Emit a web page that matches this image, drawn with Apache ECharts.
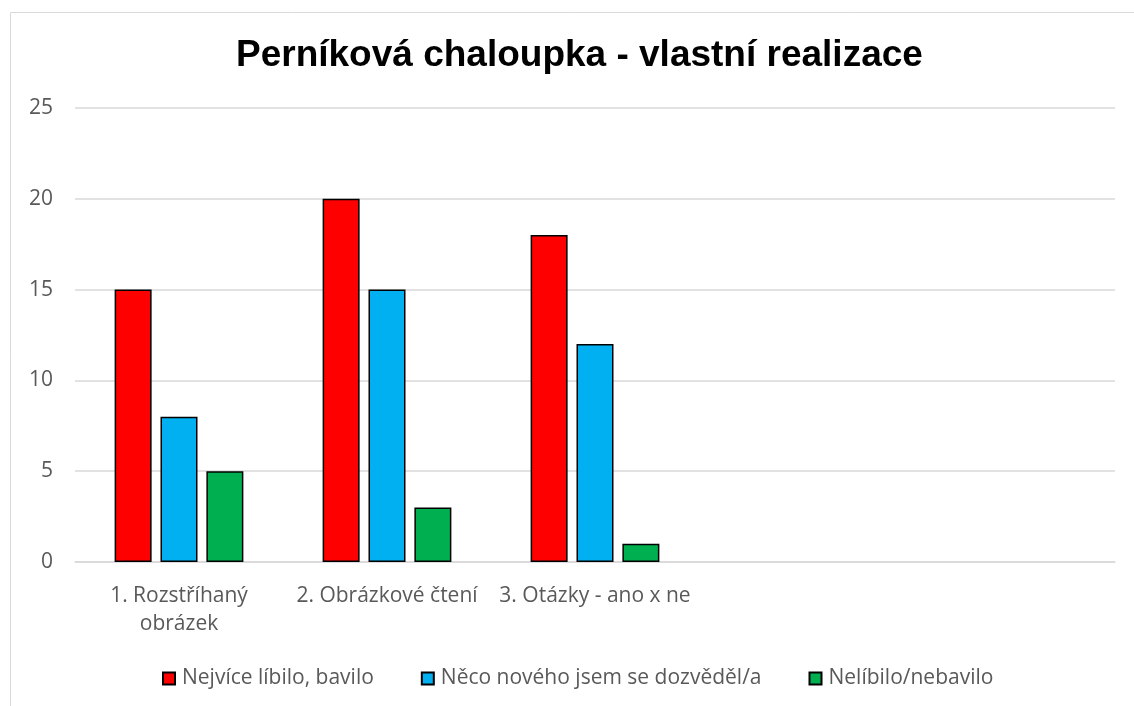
<!DOCTYPE html>
<html>
<head>
<meta charset="utf-8">
<script src="https://cdn.jsdelivr.net/npm/echarts@6/dist/echarts.min.js"></script>
<style>html,body{margin:0;padding:0;background:#fff}#c{width:1134px;height:706px}</style>
</head>
<body>
<div id="c"></div>
<script>
const titleText = 'Perníková chaloupka - vlastní realizace';
const categories = ['1. Rozstříhaný obrázek', '2. Obrázkové čtení', '3. Otázky - ano x ne', '', ''];
const seriesNames = ['Nejvíce líbilo, bavilo', 'Něco nového jsem se dozvěděl/a', 'Nelíbilo/nebavilo'];
const liked = [15, 20, 18, null, null];
const learned = [8, 15, 12, null, null];
const disliked = [5, 3, 1, null, null];
const colors = ['#FF0000', '#00B0F0', '#00B050'];
const yTicks = [0, 5, 10, 15, 20, 25];

// simple word wrap by character count
function wrap(s, maxChars) {
  const words = s.split(' ');
  const lines = [];
  let cur = '';
  words.forEach(w => {
    const t = cur ? cur + ' ' + w : w;
    if (t.length > maxChars && cur) { lines.push(cur); cur = w; } else { cur = t; }
  });
  if (cur) lines.push(cur);
  return lines.join('\n');
}

const chart = echarts.init(document.getElementById('c'), null, {renderer: 'canvas'});
const font = '"Open Sans", sans-serif';
const mk = (name, data, color) => ({
  name, type: 'bar', data, barWidth: 37, barGap: '24%',
  itemStyle: {color, borderColor: '#000', borderWidth: 1.5}
});
chart.setOption({
  animation: false,
  graphic: [{type: 'rect', shape: {x: 10.5, y: 12.5, width: 1130, height: 720},
    style: {fill: 'none', stroke: '#d9d9d9', lineWidth: 1}, silent: true, z: -1}],
  title: {text: titleText, left: 231, top: 32,
    textStyle: {fontFamily: '"Liberation Sans", Arial, sans-serif', fontWeight: 'bold', fontSize: 37, color: '#000'}},
  grid: {left: 75, right: 19, top: 108, bottom: 144, containLabel: false},
  legend: {top: 663, left: 157, itemWidth: 12, itemHeight: 12, itemGap: 47,
    icon: 'rect',
    textStyle: {fontFamily: font, fontSize: 21, color: '#595959', padding: [0, 0, 0, 2]},
    data: seriesNames},
  xAxis: {type: 'category', data: categories,
    axisLine: {lineStyle: {color: '#d9d9d9', width: 1.5}}, axisTick: {show: false},
    axisLabel: {fontFamily: font, fontSize: 21, color: '#595959', margin: 20, lineHeight: 28,
      interval: 0, formatter: v => wrap(v, 20)}},
  yAxis: {type: 'value', min: 0, max: 25, interval: 5,
    axisLine: {show: false}, axisTick: {show: false},
    splitLine: {lineStyle: {color: '#d9d9d9', width: 1.5}},
    axisLabel: {fontFamily: font, fontSize: 21, color: '#595959', margin: 22,
      formatter: v => yTicks.includes(v) ? String(v) : ''}},
  series: [mk(seriesNames[0], liked, colors[0]), mk(seriesNames[1], learned, colors[1]), mk(seriesNames[2], disliked, colors[2])]
});
</script>
</body>
</html>
